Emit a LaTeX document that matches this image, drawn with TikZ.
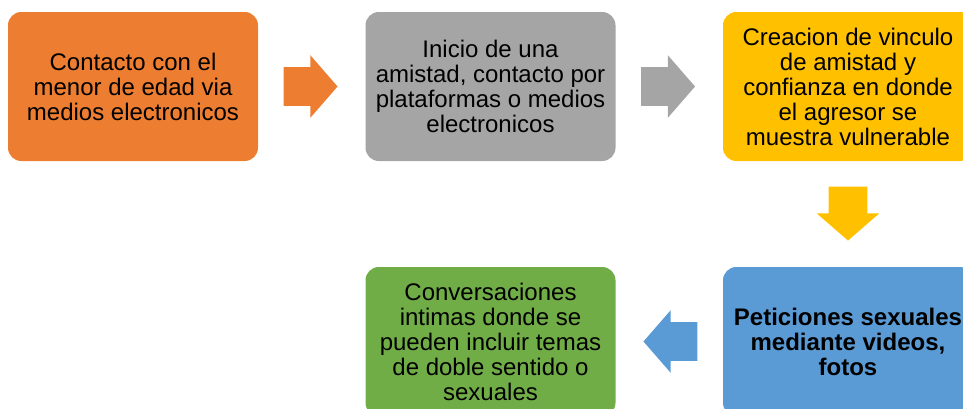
\documentclass[tikz,border=0pt]{standalone}
\usepackage{fontspec}
\setmainfont{Liberation Sans}
\usepackage{xcolor}
\usepackage{tikz}
\usetikzlibrary{shapes,shapes.arrows,positioning,calc}
\definecolor{stepOrange}{HTML}{ED7D31}
\definecolor{stepGray}{HTML}{A5A5A5}
\definecolor{stepYellow}{HTML}{FFC000}
\definecolor{stepBlue}{HTML}{5B9BD5}
\definecolor{stepGreen}{HTML}{70AD47}

\begin{document}
\begin{tikzpicture}[
    x=0.75pt, y=-0.75pt,
    box/.style={rectangle, rounded corners=10pt, minimum width=187.5pt, minimum height=111.75pt, inner sep=0pt, align=center, font=\fontsize{18}{18.75}\selectfont},
    blockarrow/.style={single arrow, draw=none, anchor=tail, inner xsep=0pt, inner ysep=14.25pt, minimum height=40.5pt, single arrow head extend=9pt, single arrow tip angle=98}
]
    \useasboundingbox (0,0) rectangle (963,408);

    % First contact (top left)
    \node[box, fill=stepOrange] (contact) at (133,86.5) {Contacto con el\\menor de edad via\\medios electronicos};

    % Friendship start (top middle)
    \node[box, fill=stepGray] (friendship) at (490.5,86.5) {Inicio de una\\amistad, contacto por\\plataformas o medios\\electronicos};

    % Trust bond (top right)
    \node[box, fill=stepYellow] (trust) at (848,86.5) {Creacion de vinculo\\de amistad y\\confianza en donde\\el agresor se\\muestra vulnerable};

    % Sexual requests (bottom right)
    \node[box, fill=stepBlue, font=\fontsize{18}{18.75}\selectfont\bfseries] (requests) at (848,341.5) {Peticiones sexuales\\mediante videos,\\fotos};

    % Intimate talks (bottom middle)
    \node[box, fill=stepGreen] (talks) at (490.5,341.5) {Conversaciones\\intimas donde se\\pueden incluir temas\\de doble sentido o\\sexuales};

    % Block arrows between the steps
    \node[blockarrow, fill=stepOrange] (arrowA) at ($(contact.east)+(25,0)$) {};
    \node[blockarrow, fill=stepGray] (arrowB) at ($(friendship.east)+(25,0)$) {};
    \node[blockarrow, fill=stepYellow, shape border rotate=270, inner xsep=14.25pt, inner ysep=0pt] (arrowC) at ($(trust.south)+(0,25)$) {};
    \node[blockarrow, fill=stepBlue, shape border rotate=180] (arrowD) at ($(requests.west)+(-25,0)$) {};
\end{tikzpicture}
\end{document}
